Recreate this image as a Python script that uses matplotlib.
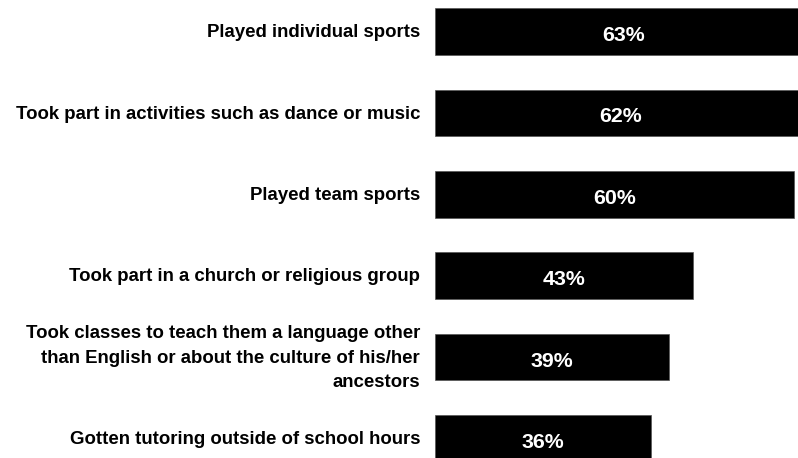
import matplotlib
matplotlib.use("Agg")
import matplotlib.pyplot as plt

categories = [
    "Played individual sports",
    "Took part in activities such as dance or music",
    "Played team sports",
    "Took part in a church or religious group",
    "Took classes to teach them a language other\nthan English or about the culture of his/her\nancestors",
    "Gotten tutoring outside of school hours",
]
values = [63, 62, 60, 43, 39, 36]

plt.rcParams['font.family'] = ['Liberation Sans', 'DejaVu Sans']

W, H = 798, 458
fig = plt.figure(figsize=(W / 100, H / 100), dpi=100)

# axes in pixel terms: x=0 at 435px, 5.99px per %; rows 81.4px apart, first centre at 31.5px
px_per = 5.99
x0 = 435
xmax = 100
row = 81.4
top = 31.5 - row / 2
n = len(categories)
bottom = top + row * n
ax = fig.add_axes([x0 / W, (H - bottom) / H, xmax * px_per / W, (bottom - top) / H])
ax.set_xlim(0, xmax)
ax.set_ylim(n - 0.5, -0.5)

ypos = list(range(n))
ax.barh(ypos, values, height=46.5 / row, color='black', edgecolor='#555555', linewidth=0.5)

for y, v in zip(ypos, values):
    ax.text(v / 2, y + 0.05, f"{v}%", color='white', fontsize=15.4, fontweight='bold',
            ha='center', va='center')

for y, lab in zip(ypos, categories):
    ax.text(-15 / px_per, y + 0.015, lab, fontsize=13.4, fontweight='bold', ha='right',
            va='center', linespacing=1.58)

ax.axis('off')
fig.savefig("out.png", dpi=100)
